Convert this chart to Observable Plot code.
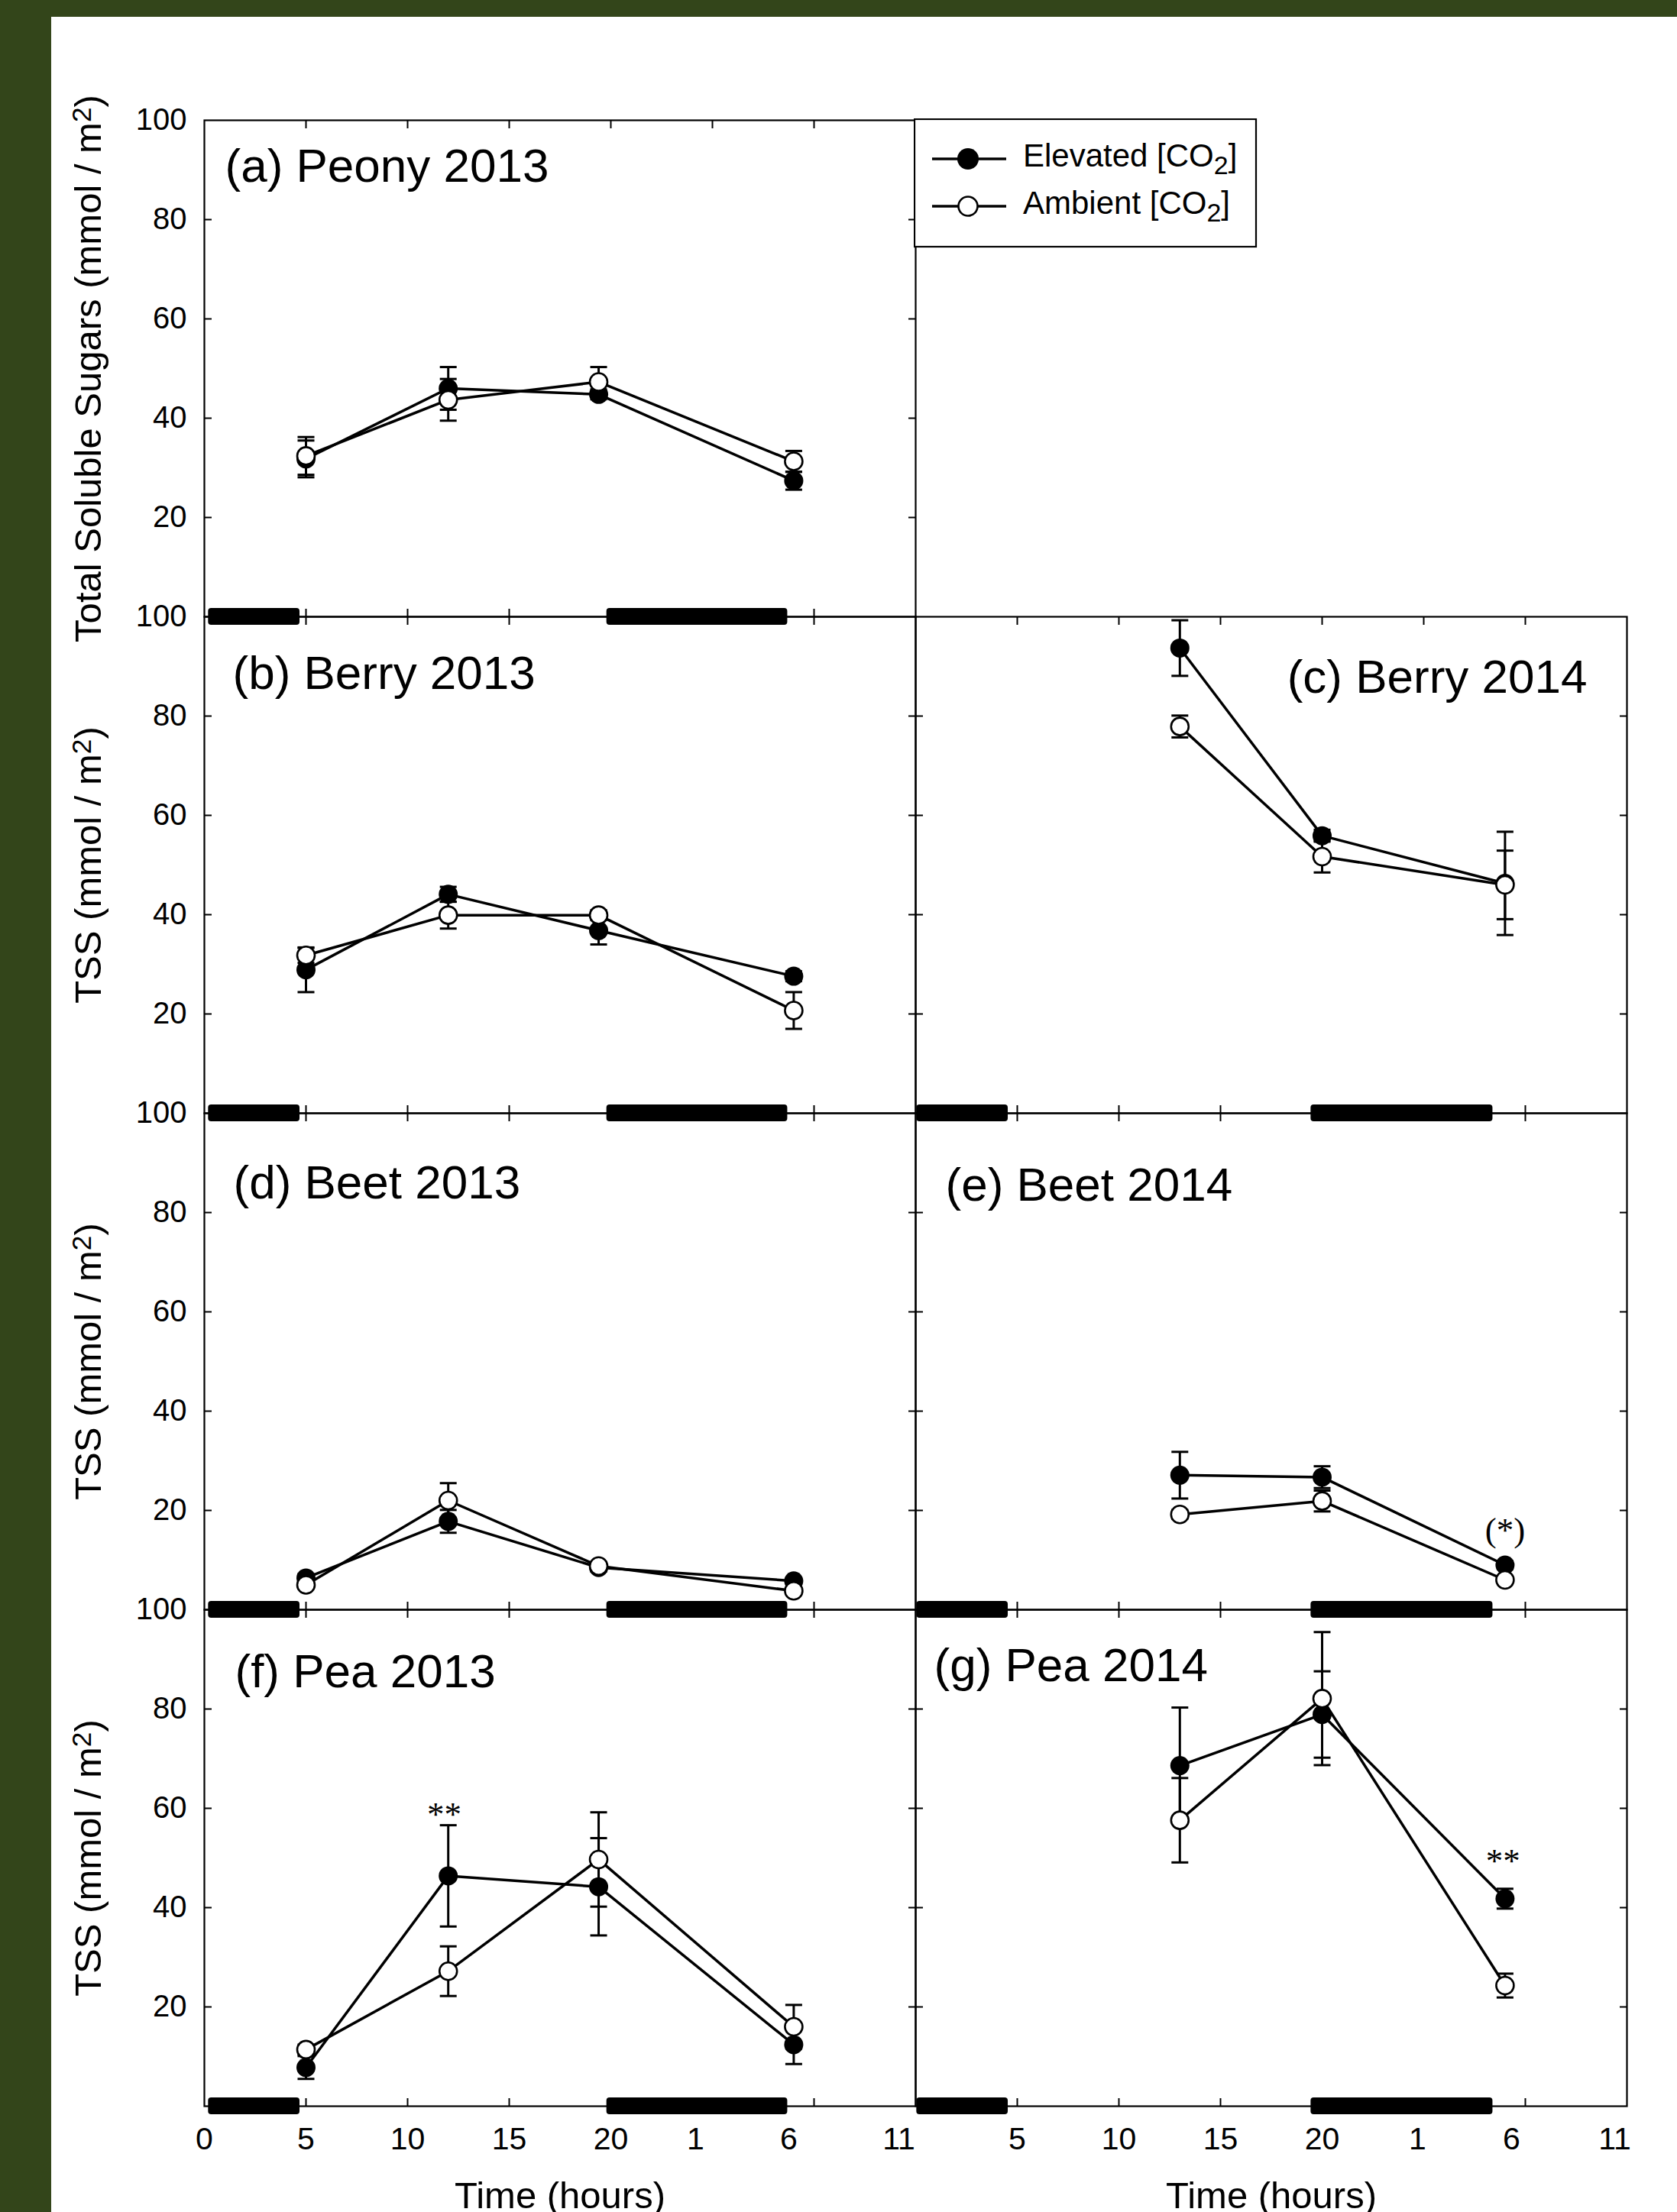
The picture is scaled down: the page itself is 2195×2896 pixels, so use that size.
<!DOCTYPE html>
<html>
<head>
<meta charset="utf-8">
<script src="https://cdn.jsdelivr.net/npm/d3@7"></script>
<script src="https://cdn.jsdelivr.net/npm/@observablehq/plot@0.6"></script>
<style>
  html, body { margin: 0; padding: 0; width: 2195px; height: 2896px; overflow: hidden; background: #33451a; }
  #paper { position: absolute; left: 67px; top: 22px; right: 0; bottom: 0; background: #ffffff; }
  #chart { position: absolute; left: 0; top: 0; }
  #legend { position: absolute; left: 1196px; top: 155px; }
</style>
</head>
<body>
<div id="paper"></div>
<div id="chart"></div>
<svg id="legend" width="452" height="172"></svg>
<script>
// ---------- data ----------
const panelIds    = ["a", "b", "c", "d", "e", "f", "g"];
const panelTitles = ["(a) Peony 2013", "(b) Berry 2013", "(c) Berry 2014", "(d) Beet 2013", "(e) Beet 2014", "(f) Pea 2013", "(g) Pea 2014"];
const panelYears  = ["2013", "2013", "2014", "2013", "2014", "2013", "2014"];
const panelRows   = [0, 1, 1, 2, 2, 3, 3];

const seriesNames = ["Elevated", "Ambient"];

const times2013 = [5, 12, 19.4, 29];
const times2014 = [13, 20, 29];

// (a) Peony 2013
const aElev = [31.8, 46.0, 44.8, 27.4], aElevSE = [3.7, 4.3, 1.0, 1.8];
const aAmb  = [32.4, 43.7, 47.3, 31.3], aAmbSE  = [3.8, 4.2, 3.0, 2.1];
// (b) Berry 2013
const bElev = [28.9, 44.1, 36.8, 27.6], bElevSE = [4.5, 1.5, 2.8, 1.0];
const bAmb  = [31.8, 39.9, 39.9, 20.7], bAmbSE  = [1.5, 2.7, 1.0, 3.7];
// (c) Berry 2014
const cElev = [93.7, 55.9, 46.3], cElevSE = [5.6, 1.2, 10.4];
const cAmb  = [77.9, 51.7, 46.0], cAmbSE  = [2.2, 3.2, 6.9];
// (d) Beet 2013
const dElev = [6.4, 17.8, 8.5, 5.8], dElevSE = [0.8, 2.3, 0.8, 0.6];
const dAmb  = [5.0, 22.0, 8.8, 3.8], dAmbSE  = [0.6, 3.5, 0.8, 0.6];
// (e) Beet 2014
const eElev = [27.1, 26.7, 9.0], eElevSE = [4.7, 2.2, 0.8];
const eAmb  = [19.2, 21.9, 6.0], eAmbSE  = [0.9, 2.1, 0.6];
// (f) Pea 2013
const fElev = [7.8, 46.4, 44.2, 12.4], fElevSE = [2.3, 10.2, 9.8, 3.9];
const fAmb  = [11.4, 27.2, 49.7, 16.0], fAmbSE  = [1.0, 5.0, 9.5, 4.4];
// (g) Pea 2014
const gElev = [68.6, 78.9, 41.8], gElevSE = [11.7, 8.7, 2.0];
const gAmb  = [57.6, 82.1, 24.3], gAmbSE  = [8.5, 13.4, 2.4];

// night periods (dark bars on the time axis)
const night2013Start = [0.2, 19.8], night2013End = [4.7, 28.7];
const night2014Start = [0.05, 19.45], night2014End = [4.55, 28.4];

// significance annotations
const annPanels = ["e", "f", "g"];
const annX      = [29, 11.8, 28.9];
const annY      = [13.8, 56.5, 47.2];
const annLabels = ["(*)", "**", "**"];

// axis ticks
const xTickValues = [0, 5, 10, 15, 20, 25, 30, 35];
const xTickLabels = ["0", "5", "10", "15", "20", "1", "6", "11"];
const innerTicksX = [5, 10, 15, 20, 25, 30];
const yTickValues = [20, 40, 60, 80, 100];
const innerTicksY = [20, 40, 60, 80];

const yTitleMain = "Total Soluble Sugars (mmol / m²)";
const yTitleShort = "TSS (mmol / m²)";
const xTitle = "Time (hours)";

// ---------- tables built from the arrays ----------
const valueSets = {
  a: [aElev, aElevSE, aAmb, aAmbSE], b: [bElev, bElevSE, bAmb, bAmbSE],
  c: [cElev, cElevSE, cAmb, cAmbSE], d: [dElev, dElevSE, dAmb, dAmbSE],
  e: [eElev, eElevSE, eAmb, eAmbSE], f: [fElev, fElevSE, fAmb, fAmbSE],
  g: [gElev, gElevSE, gAmb, gAmbSE]
};
const timesByYear = {"2013": times2013, "2014": times2014};
const nightsByYear = {
  "2013": night2013Start.map((s, i) => ({start: s, end: night2013End[i]})),
  "2014": night2014Start.map((s, i) => ({start: s, end: night2014End[i]}))
};

const panels = panelIds.map((id, i) => ({id, title: panelTitles[i], col: panelYears[i], row: panelRows[i]}));
const panelById = Object.fromEntries(panels.map(p => [p.id, p]));

const meas = [];
panels.forEach(p => {
  const [ev, es, av, as] = valueSets[p.id];
  timesByYear[p.col].forEach((t, j) => {
    meas.push({col: p.col, row: p.row, panel: p.id, t, v: ev[j], se: es[j], series: seriesNames[0]});
    meas.push({col: p.col, row: p.row, panel: p.id, t, v: av[j], se: as[j], series: seriesNames[1]});
  });
});
const elev = meas.filter(d => d.series === seriesNames[0]);
const amb = meas.filter(d => d.series === seriesNames[1]);

const nights = panels.flatMap(p => nightsByYear[p.col].map(n => ({col: p.col, row: p.row, ...n})));

const leftPanels = panels.filter(p => p.col === "2013");
const bottomRow = d3.max(panels, p => p.row);
const bottomPanels = panels.filter(p => p.row === bottomRow);

const yTickRows = leftPanels.flatMap(p => yTickValues.map(v => ({col: p.col, row: p.row, v, label: String(v)})));
const xTickRows = bottomPanels.flatMap(p => xTickValues.map((t, i) => ({col: p.col, row: p.row, t, label: xTickLabels[i]})))
  .filter(d => !(d.col === "2014" && d.t === 0));
const yTitleRows = leftPanels.map(p => ({col: p.col, row: p.row, label: p.row === 0 ? yTitleMain : yTitleShort}));
const xTitleRows = bottomPanels.map(p => ({col: p.col, row: p.row, label: xTitle}));
const annRows = annPanels.map((id, i) => ({col: panelById[id].col, row: panelById[id].row, x: annX[i], y: annY[i], label: annLabels[i]}));

// ---------- layout / style ----------
const fac = {fx: "col", fy: "row"};
const sans = "'Liberation Sans', Arial, Helvetica, sans-serif";
const serif = "'Liberation Serif', 'Times New Roman', serif";
const capSymbol = {draw(ctx, size) { const w = Math.sqrt(size / Math.PI); ctx.moveTo(-w, 0); ctx.lineTo(w, 0); }};
const titleLayout = {
  a: {dx: 27, dy: 80}, b: {dx: 37, dy: 94}, c: {dx: -52, dy: 99, right: true},
  d: {dx: 38, dy: 111}, e: {dx: 39, dy: 114}, f: {dx: 40, dy: 101}, g: {dx: 24, dy: 93}
};
// horizontal nudges of the after-midnight hour labels, as placed in the original figure
const lateLabelNudge = {"2013": {"1": -22, "6": -33, "11": -22}, "2014": {"1": -8, "6": -18, "11": -16}};
const tickOpts = {tickSize: -10, tickFormat: () => "", label: null, facetAnchor: null, strokeWidth: 2, stroke: "black"};

const errorMarks = (data) => [
  Plot.ruleX(data, {...fac, x: "t", y1: d => d.v - d.se, y2: d => d.v + d.se, stroke: "black", strokeWidth: 3}),
  Plot.dot(data, {...fac, x: "t", y: d => d.v + d.se, symbol: capSymbol, r: 11, stroke: "black", strokeWidth: 3, fill: "none"}),
  Plot.dot(data, {...fac, x: "t", y: d => d.v - d.se, symbol: capSymbol, r: 11, stroke: "black", strokeWidth: 3, fill: "none"})
];

const xLabelMarks = [];
xLabelMarks.push(Plot.text(xTickRows.filter(d => d.t <= 20), {...fac, x: "t", text: "label", frameAnchor: "bottom", lineAnchor: "top", dy: 27, fontSize: 41, fill: "black"}));
for (const col of Object.keys(lateLabelNudge)) {
  for (const [lab, dx] of Object.entries(lateLabelNudge[col])) {
    xLabelMarks.push(Plot.text(xTickRows.filter(d => d.col === col && d.t > 20 && d.label === lab),
      {...fac, x: "t", text: "label", frameAnchor: "bottom", lineAnchor: "top", dy: 27, dx, fontSize: 41, fill: "black"}));
  }
}

const chart = Plot.plot({
  width: 2195,
  height: 2896,
  marginLeft: 266,
  marginRight: 66,
  marginTop: 157,
  marginBottom: 139,
  facet: {marginTop: 0, marginRight: 0, marginBottom: 0, marginLeft: 0},
  x: {domain: [0, 35]},
  y: {domain: [0, 100]},
  fx: {domain: ["2013", "2014"], padding: 0, axis: null},
  fy: {domain: [0, 1, 2, 3], padding: 0, axis: null},
  style: {background: "transparent", fontFamily: sans, fontSize: "40px", color: "black", overflow: "visible"},
  marks: [
    Plot.frame({stroke: "black", strokeWidth: 2.2}),
    Plot.rect(nights, {...fac, x1: "start", x2: "end", y1: 0, y2: 0, insetTop: -11, insetBottom: -11, rx: 4, fill: "black"}),
    Plot.axisX(innerTicksX, {anchor: "bottom", ...tickOpts}),
    Plot.axisX(innerTicksX, {anchor: "top", ...tickOpts}),
    Plot.axisY(innerTicksY, {anchor: "left", ...tickOpts}),
    Plot.axisY(innerTicksY, {anchor: "right", ...tickOpts}),
    ...errorMarks(elev),
    ...errorMarks(amb),
    Plot.line(elev, {...fac, x: "t", y: "v", z: "panel", stroke: "black", strokeWidth: 3.5}),
    Plot.line(amb, {...fac, x: "t", y: "v", z: "panel", stroke: "black", strokeWidth: 3.5}),
    Plot.dot(elev, {...fac, x: "t", y: "v", r: 12.5, fill: "black", stroke: "none"}),
    Plot.dot(amb, {...fac, x: "t", y: "v", r: 11.5, fill: "white", stroke: "black", strokeWidth: 2.6}),
    // panel titles
    ...panels.map(p => {
      const L = titleLayout[p.id];
      return Plot.text([p], {...fac, text: "title", frameAnchor: L.right ? "top-right" : "top-left",
        textAnchor: L.right ? "end" : "start", lineAnchor: "bottom", dx: L.dx, dy: L.dy, fontSize: 62, fill: "black"});
    }),
    // y tick labels
    Plot.text(yTickRows, {...fac, y: "v", text: "label", frameAnchor: "left", textAnchor: "end", dx: -23, fontSize: 40, fill: "black"}),
    // x tick labels
    ...xLabelMarks,
    // axis titles
    Plot.text(xTitleRows, {...fac, text: "label", frameAnchor: "bottom", textAnchor: "middle", lineAnchor: "top", dy: 99, fontSize: 49, fill: "black"}),
    Plot.text(yTitleRows, {...fac, text: "label", frameAnchor: "left", textAnchor: "middle", lineAnchor: "middle", rotate: -90, dx: -151, fontSize: 49, fill: "black"}),
    // significance
    Plot.text(annRows, {...fac, x: "x", y: "y", text: "label", textAnchor: "middle", lineAnchor: "bottom", fontFamily: serif, fontSize: 45, fill: "black"})
  ]
});
document.getElementById("chart").appendChild(chart);

// larger superscript "2" in the unit labels (kept as real text)
d3.select(chart).selectAll("text").each(function () {
  const s = this.textContent;
  if (!s.includes("²") || this.children.length) return;
  const [pre, post] = s.split("²");
  const t = d3.select(this);
  t.text(null);
  t.append("tspan").text(pre);
  t.append("tspan").attr("dy", "-0.38em").attr("font-size", "0.72em").text("2");
  t.append("tspan").attr("dy", "0.27em").text(post);
});

// ---------- legend ----------
const lg = d3.select("#legend");
lg.append("rect").attr("x", 1).attr("y", 1).attr("width", 447).attr("height", 167)
  .attr("fill", "white").attr("stroke", "black").attr("stroke-width", 2.2);
seriesNames.forEach((name, i) => {
  const cy = 53 + i * 62;
  lg.append("line").attr("x1", 24).attr("x2", 121).attr("y1", cy).attr("y2", cy)
    .attr("stroke", "black").attr("stroke-width", 3.5);
  lg.append("circle").attr("cx", 71).attr("cy", cy).attr("r", i === 0 ? 14 : 12.5)
    .attr("fill", i === 0 ? "black" : "white").attr("stroke", i === 0 ? "none" : "black").attr("stroke-width", 2.6);
  const t = lg.append("text").attr("x", 143).attr("y", cy + 10)
    .attr("font-family", sans).attr("font-size", 42).attr("fill", "black");
  t.append("tspan").text(name + " [CO");
  t.append("tspan").attr("dy", 10).attr("font-size", 34).text("2");
  t.append("tspan").attr("dy", -10).text("]");
});
</script>
</body>
</html>
